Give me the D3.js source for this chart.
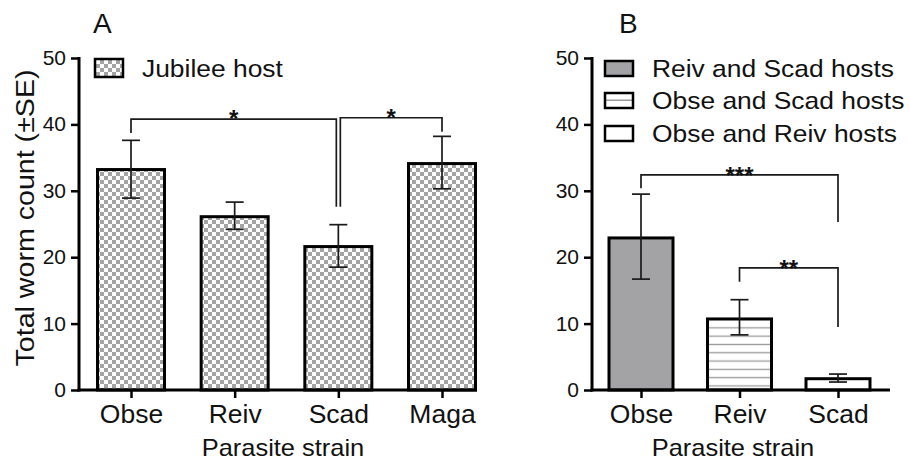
<!DOCTYPE html>
<html>
<head>
<meta charset="utf-8">
<script src="https://cdn.jsdelivr.net/npm/d3@7"></script>
<style>
body{margin:0;background:#fff;}
svg{display:block;}
text{font-family:"Liberation Sans",Arial,Helvetica,sans-serif;fill:#111;}
</style>
</head>
<body>
<svg id="chart" width="910" height="471"></svg>
<script>
// ---- data ----
const catsA = ["Obse","Reiv","Scad","Maga"];
const meanA = [33.2, 26.1, 21.6, 34.1];
const seLowA = [28.9, 24.2, 18.5, 30.3];
const seHighA = [37.6, 28.3, 24.9, 38.2];
const legendA = ["Jubilee host"];

const catsB = ["Obse","Reiv","Scad"];
const meanB = [22.9, 10.7, 1.7];
const seLowB = [16.7, 8.3, 1.2];
const seHighB = [29.5, 13.6, 2.4];
const legendB = ["Reiv and Scad hosts","Obse and Scad hosts","Obse and Reiv hosts"];

const yTicks = [0,10,20,30,40,50];
// brackets: [fromCat, toCat, lineY, legFromY, legToY, label]
const bracketsA = [["Obse","Scad",40.8,38.7,27.6,"*"],["Scad","Maga",41.0,27.6,38.9,"*"]];
const bracketsB = [["Obse","Scad",32.4,30.4,25.3,"***"],["Reiv","Scad",18.4,16.3,9.5,"**"]];

const svg = d3.select("#chart");
const defs = svg.append("defs");
const chk = defs.append("pattern").attr("id","checker").attr("patternUnits","userSpaceOnUse")
  .attr("width",8).attr("height",8);
chk.append("rect").attr("width",8).attr("height",8).attr("fill","#fff");
chk.append("rect").attr("width",4).attr("height",4).attr("fill","#a4a4a4");
chk.append("rect").attr("x",4).attr("y",4).attr("width",4).attr("height",4).attr("fill","#a4a4a4");
const hl = defs.append("pattern").attr("id","hlines").attr("patternUnits","userSpaceOnUse")
  .attr("width",8).attr("height",8.3);
hl.append("rect").attr("width",8).attr("height",8.3).attr("fill","#fff");
hl.append("rect").attr("y",3.5).attr("width",8).attr("height",1.3).attr("fill","#9a9a9a");
const hl1 = defs.append("pattern").attr("id","hline1").attr("patternUnits","objectBoundingBox")
  .attr("width",1).attr("height",1);
hl1.append("rect").attr("width",30).attr("height",16).attr("fill","#fff");
hl1.append("rect").attr("y",6.5).attr("width",30).attr("height",1.5).attr("fill","#9a9a9a");

const y = d3.scaleLinear().domain([0,50]).range([390,58]);

function stext(g, x, yy, str, size, anchor, sx, weight){
  return g.append("text").attr("transform",`translate(${x},${yy}) scale(${sx},1)`)
    .attr("text-anchor",anchor||"start").attr("font-size",size)
    .attr("font-weight",weight||"normal").text(str);
}

function panel(opts){
  const g = svg.append("g");
  const x = d3.scalePoint().domain(opts.cats).range(opts.centers);
  // bars
  g.selectAll("rect.bar").data(opts.cats).join("rect").attr("class","bar")
    .attr("x",d=>x(d)-opts.bw/2).attr("width",opts.bw)
    .attr("y",(d,i)=>y(opts.mean[i])).attr("height",(d,i)=>y(0)-y(opts.mean[i]))
    .attr("fill",(d,i)=>opts.fills[i]).attr("stroke","#000").attr("stroke-width",3);
  // error bars
  const eb = g.selectAll("g.eb").data(opts.cats).join("g").attr("class","eb")
    .attr("stroke","#1a1a1a").attr("stroke-width",1.7);
  eb.append("line").attr("x1",d=>x(d)).attr("x2",d=>x(d))
    .attr("y1",(d,i)=>y(opts.lo[i])).attr("y2",(d,i)=>y(opts.hi[i]));
  eb.append("line").attr("x1",d=>x(d)-9).attr("x2",d=>x(d)+9)
    .attr("y1",(d,i)=>y(opts.lo[i])).attr("y2",(d,i)=>y(opts.lo[i]));
  eb.append("line").attr("x1",d=>x(d)-9).attr("x2",d=>x(d)+9)
    .attr("y1",(d,i)=>y(opts.hi[i])).attr("y2",(d,i)=>y(opts.hi[i]));
  // brackets
  opts.brackets.forEach(b=>{
    let xa = x(b[0]), xb = x(b[1]);
    if(opts.split){ if(b[1]==="Scad") xb -= 2; if(b[0]==="Scad") xa += 2; }
    g.append("path").attr("fill","none").attr("stroke","#1a1a1a").attr("stroke-width",1.7)
      .attr("d",`M${xa},${y(b[3])}V${y(b[2])}H${xb}V${y(b[4])}`);
    stext(g,(xa+xb)/2,y(b[2])+opts.starDy,b[5],opts.starSize,"middle",opts.starSx,"bold");
  });
  // axes
  const ya = g.append("g").attr("transform",`translate(${opts.axisX[0]},0)`)
    .call(d3.axisLeft(y).tickValues(yTicks).tickSize(8).tickSizeOuter(0).tickPadding(5));
  ya.select(".domain").remove();
  ya.selectAll(".tick line").attr("stroke","#000").attr("stroke-width",2.5);
  ya.selectAll(".tick text").attr("font-size",20).attr("fill","#111")
    .attr("x",-13/1.05).attr("transform","scale(1.05,1)").attr("font-family",null);
  const xa = g.append("g").attr("transform",`translate(0,${y(0)})`)
    .call(d3.axisBottom(x).tickSize(8).tickSizeOuter(0).tickPadding(7));
  xa.select(".domain").remove();
  xa.selectAll(".tick line").attr("stroke","#000").attr("stroke-width",2.5);
  xa.selectAll(".tick text").attr("font-size",25).attr("fill","#111")
    .attr("transform","scale(1.06,1)").attr("font-family",null);
  g.append("line").attr("x1",opts.axisX[0]).attr("x2",opts.axisX[0])
    .attr("y1",y(50)-1).attr("y2",y(0)+1.5).attr("stroke","#000").attr("stroke-width",3);
  g.append("line").attr("x1",opts.axisX[0]-1.5).attr("x2",opts.axisX[1])
    .attr("y1",y(0)).attr("y2",y(0)).attr("stroke","#000").attr("stroke-width",3);
  // x title
  stext(g,opts.titleX,456,"Parasite strain",24,"middle",1.06);
  // panel letter
  g.append("text").attr("x",opts.letterX).attr("y",33).attr("font-size",28)
    .attr("font-family","'Liberation Sans Narrow','DejaVu Sans Condensed',Arial,sans-serif")
    .text(opts.letter);
  // legend
  opts.legend.forEach((t,i)=>{
    const ly = opts.legY[i];
    g.append("rect").attr("x",opts.legX).attr("y",ly-opts.swH/2).attr("width",28).attr("height",opts.swH)
      .attr("fill",opts.legFills[i]).attr("stroke","#000").attr("stroke-width",2.5);
    stext(g,opts.legX+47,ly+8.5,t,24,"start",1.1);
  });
  return g;
}

panel({cats:catsA, mean:meanA, lo:seLowA, hi:seHighA, centers:[131,442], bw:67,
  fills:catsA.map(()=>"url(#checker)"), brackets:bracketsA, split:true,
  starSize:24, starSx:1, starDy:8,
  axisX:[79,477], titleX:283, letter:"A", letterX:93,
  legend:legendA, legX:95, legY:[68], swH:18, legFills:["url(#checker)"]});

panel({cats:catsB, mean:meanB, lo:seLowB, hi:seHighB, centers:[641,838], bw:64,
  fills:["#a3a3a6","url(#hlines)","#fff"], brackets:bracketsB, split:false,
  starSize:24, starSx:1, starDy:9,
  axisX:[592,890], titleX:733, letter:"B", letterX:619,
  legend:legendB, legX:605, legY:[68.5,100.5,133.5], swH:15,
  legFills:["#a3a3a6","url(#hline1)","#fff"]});

// y axis title
svg.append("text").attr("transform","translate(34,218) rotate(-90) scale(1.1,1)")
  .attr("text-anchor","middle").attr("font-size",26).text("Total worm count (±SE)");
</script>
</body>
</html>
